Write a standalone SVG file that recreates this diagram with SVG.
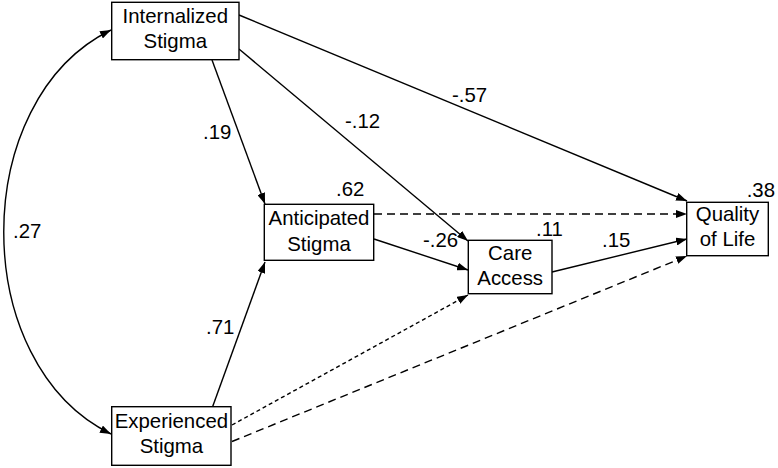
<svg xmlns="http://www.w3.org/2000/svg" width="778" height="468" viewBox="0 0 778 468">
<defs>
<style>
.box{fill:#fff;stroke:#000;stroke-width:1.4}
.t{font-family:"Liberation Sans",Arial,sans-serif;font-size:20.4px;fill:#000}
.c{text-anchor:middle}
.ln{fill:none;stroke:#000;stroke-width:1.4;marker-end:url(#ah)}
.ld{stroke-dasharray:8 5}
.sd{stroke-dasharray:4 3}
</style>
<marker id="ah" markerUnits="userSpaceOnUse" markerWidth="12" markerHeight="8" refX="11" refY="4" orient="auto-start-reverse">
<path d="M0,0 L11,4 L0,8 z" fill="#000" stroke="none"/>
</marker>
</defs>
<rect width="778" height="468" fill="#fff"/>
<g id="connectors">
<path class="ln" d="M111,30 C-32,100 -32,364 111,434" marker-start="url(#ah)"/>
<line class="ln" x1="212" y1="60" x2="265" y2="204"/>
<line class="ln" x1="212.5" y1="407" x2="265" y2="262"/>
<line class="ln" x1="239" y1="49" x2="468" y2="241"/>
<line class="ln" x1="239" y1="15" x2="687" y2="201"/>
<line class="ln ld" x1="374" y1="214" x2="687" y2="214"/>
<line class="ln" x1="374" y1="239" x2="468" y2="270"/>
<line class="ln" x1="552" y1="272" x2="687" y2="239"/>
<line class="ln sd" x1="232" y1="425" x2="468" y2="295"/>
<line class="ln ld" x1="232" y1="441.5" x2="687" y2="256"/>
</g>
<g id="internalized">
<rect class="box" x="111.7" y="2.3" width="127.3" height="57.4"/>
<text class="t c" x="175.3" y="23">Internalized</text>
<text class="t c" x="175.3" y="48">Stigma</text>
</g>
<g id="anticipated">
<rect class="box" x="264.3" y="204.3" width="109.4" height="56"/>
<text class="t c" x="319" y="225">Anticipated</text>
<text class="t c" x="319" y="250.5">Stigma</text>
<text class="t" x="336" y="196">.62</text>
</g>
<g id="care">
<rect class="box" x="468.3" y="240.3" width="83.7" height="53.4"/>
<text class="t c" x="510.2" y="259.5">Care</text>
<text class="t c" x="510.2" y="285">Access</text>
<text class="t" x="536" y="236">.11</text>
</g>
<g id="quality">
<rect class="box" x="686.7" y="202.3" width="81.6" height="53.4"/>
<text class="t c" x="727.5" y="221">Quality</text>
<text class="t c" x="727.5" y="246">of Life</text>
<text class="t" x="775" y="196.5" text-anchor="end">.38</text>
</g>
<g id="experienced">
<rect class="box" x="111.7" y="406.7" width="119.3" height="58.6"/>
<text class="t c" x="171.4" y="428.3">Experienced</text>
<text class="t c" x="171.4" y="453.3">Stigma</text>
</g>
<g id="labels">
<text class="t" x="13" y="238.3">.27</text>
<text class="t" x="203" y="139.3">.19</text>
<text class="t" x="206" y="334">.71</text>
<text class="t" x="345" y="128.3">-.12</text>
<text class="t" x="452" y="101.7">-.57</text>
<text class="t" x="423" y="247.3">-.26</text>
<text class="t" x="602" y="246.7">.15</text>
</g>
</svg>
